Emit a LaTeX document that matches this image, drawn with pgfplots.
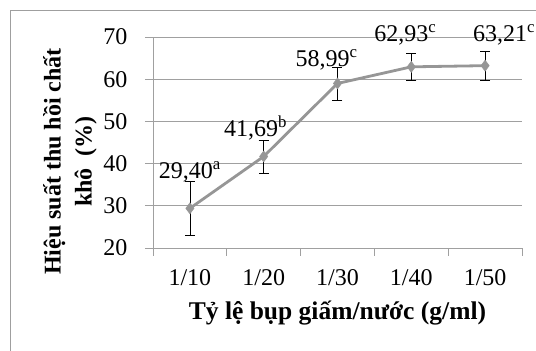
\documentclass[border=0pt]{standalone}
\usepackage{pgfplots}
\pgfplotsset{compat=1.18}
\usepackage{pgfplotstable}
\usepackage{fontspec}
\setmainfont{Liberation Serif}
\definecolor{linegray}{RGB}{150,150,150}
\definecolor{gridgray}{RGB}{160,160,160}
\pgfplotstableread{
x y err dx dy label
0 29.40 6.4 0 36 {29,40\textsuperscript{a}}
1 41.69 3.9 -8 28 {41,69\textsuperscript{b}}
2 58.99 3.9 -11 24 {58,99\textsuperscript{c}}
3 62.93 3.3 -6 32 {62,93\textsuperscript{c}}
4 63.21 3.5 19 31 {63,21\textsuperscript{c}}
}\datatable
\newcommand{\fs}{\fontsize{24}{28}\selectfont}
\begin{document}
\begin{tikzpicture}[x=1pt,y=1pt]
\useasboundingbox (0,0) rectangle (536,351);
\draw[gray!75, line width=0.8pt] (10.5,-10) rectangle (560,340.5);
\begin{axis}[
  at={(153pt,103pt)}, anchor=south west,
  scale only axis, width=369pt, height=211pt,
  xmin=-0.5, xmax=4.5, ymin=20, ymax=70,
  ytick={20,30,...,70},
  xtick={-0.5,0.5,...,4.5},
  xticklabels={},
  extra x ticks={0,1,2,3,4},
  extra x tick labels={1/10,1/20,1/30,1/40,1/50},
  extra x tick style={major tick length=0pt, grid=none,
    tick label style={yshift=-18pt}},
  axis lines*=left,
  axis line style={draw=gridgray, line width=0.8pt, -},
  tick style={draw=gridgray, line width=0.8pt},
  tick align=outside,
  major tick length=8pt,
  ymajorgrids,
  grid style={draw=gridgray, line width=0.8pt},
  font=\fs,
  tick label style={font=\fs},
  yticklabel style={xshift=-14pt},
  /pgf/number format/assume math mode=true,
  xlabel={\textbf{Tỷ lệ bụp giấm/nước (g/ml)}},
  ylabel={\textbf{Hiệu suất thu hồi chất}\\\textbf{khô\ \ (\%)}},
  every axis x label/.style={at={(rel axis cs:0.5,0)}, anchor=center, yshift=-65pt,
    font=\fontsize{25.5}{29}\selectfont},
  every axis y label/.style={at={(rel axis cs:0,0.5)}, anchor=center, rotate=90,
    yshift=83pt, xshift=-19pt, align=center,
    font=\fontsize{24}{31}\selectfont},
  clip=false,
]
\addplot[linegray, line width=2.8pt, mark=diamond*, mark size=5.5pt,
  mark options={fill=linegray, draw=linegray, line width=0.5pt},
  error bars/.cd, y dir=both, y explicit,
  error bar style={black, line width=0.7pt},
  error mark options={rotate=90, mark size=5pt, black, line width=0.7pt},
] table[x=x, y=y, y error=err] {\datatable};
\addplot[draw=none, mark=none,
  point meta=explicit symbolic,
  visualization depends on={\thisrow{dx} \as \dx},
  visualization depends on={\thisrow{dy} \as \dy},
  nodes near coords,
  every node near coord/.append style={anchor=center, xshift=\dx pt, yshift=\dy pt,
    font=\fs, text=black, inner sep=0pt},
] table[x=x, y=y, meta=label] {\datatable};
\end{axis}
\end{tikzpicture}
\end{document}
